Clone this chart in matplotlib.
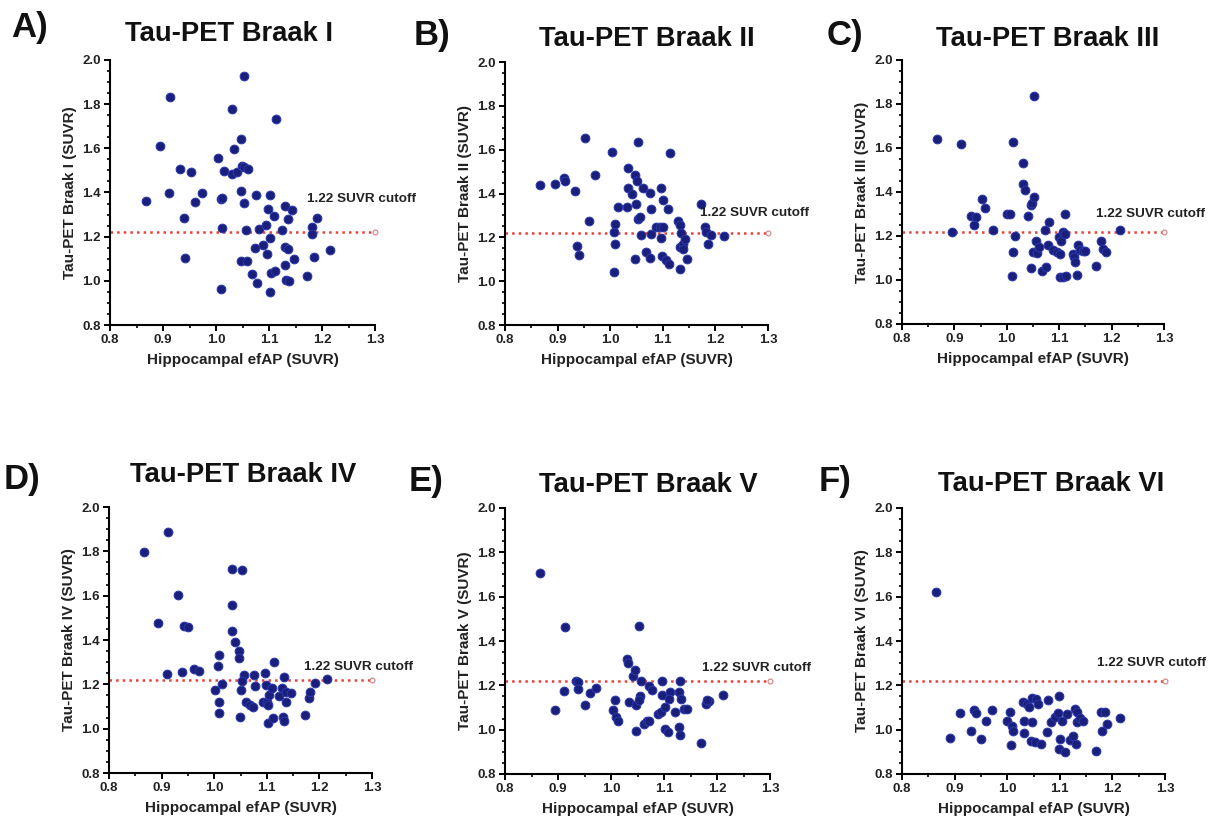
import matplotlib
matplotlib.use("Agg")
import matplotlib.pyplot as plt
from matplotlib.ticker import MultipleLocator, FormatStrFormatter

plt.rcParams['font.family'] = ['Liberation Sans', 'DejaVu Sans']
plt.rcParams['font.weight'] = 'bold'

W, H = 1217, 822

# ---------------- data ----------------
titles = ["Tau-PET Braak I", "Tau-PET Braak II", "Tau-PET Braak III",
          "Tau-PET Braak IV", "Tau-PET Braak V", "Tau-PET Braak VI"]
letters = ["A)", "B)", "C)", "D)", "E)", "F)"]
ylabels = ["Tau-PET Braak I (SUVR)", "Tau-PET Braak II (SUVR)", "Tau-PET Braak III (SUVR)",
           "Tau-PET Braak IV (SUVR)", "Tau-PET Braak V (SUVR)", "Tau-PET Braak VI (SUVR)"]
xlabel = "Hippocampal efAP (SUVR)"
cutoff = 1.22
cutoff_label = "1.22 SUVR cutoff"
x_ticks = [0.8, 0.9, 1.0, 1.1, 1.2, 1.3]
y_ticks = [0.8, 1.0, 1.2, 1.4, 1.6, 1.8, 2.0]

braak1_x = [0.868, 0.894, 0.913, 0.912, 0.932, 0.940, 0.942, 0.952, 0.960, 0.973,
            1.003, 1.009, 1.012, 1.011, 1.009, 1.016, 1.031, 1.034, 1.031, 1.039,
            1.047, 1.052, 1.049, 1.053, 1.061, 1.048, 1.052, 1.057, 1.048, 1.058,
            1.067, 1.077, 1.075, 1.074, 1.081, 1.088, 1.094, 1.099, 1.102, 1.101,
            1.097, 1.102, 1.103, 1.111, 1.110, 1.113, 1.124, 1.130, 1.131, 1.135,
            1.136, 1.131, 1.133, 1.138, 1.144, 1.147, 1.171, 1.181, 1.182, 1.185,
            1.190, 1.215]
braak1_y = [1.363, 1.612, 1.831, 1.396, 1.506, 1.286, 1.105, 1.494, 1.358, 1.396,
            1.555, 1.369, 1.374, 1.241, 0.965, 1.499, 1.777, 1.595, 1.484, 1.494,
            1.641, 1.929, 1.520, 1.517, 1.506, 1.408, 1.351, 1.230, 1.090, 1.090,
            1.029, 0.992, 1.389, 1.147, 1.235, 1.162, 1.253, 1.324, 1.389, 1.192,
            1.122, 0.951, 1.037, 1.045, 1.294, 1.731, 1.230, 1.155, 1.339, 1.278,
            1.146, 1.072, 1.004, 0.999, 1.321, 1.097, 1.022, 1.245, 1.211, 1.106,
            1.286, 1.140]

braak2_x = [0.866, 0.895, 0.913, 0.914, 0.933, 0.936, 0.941, 0.952, 0.960, 0.972,
            1.003, 1.007, 1.010, 1.010, 1.008, 1.015, 1.033, 1.031, 1.033, 1.041,
            1.048, 1.050, 1.049, 1.052, 1.053, 1.056, 1.048, 1.059, 1.063, 1.068,
            1.075, 1.075, 1.078, 1.077, 1.088, 1.094, 1.097, 1.096, 1.101, 1.101,
            1.099, 1.106, 1.110, 1.113, 1.112, 1.129, 1.132, 1.134, 1.132, 1.132,
            1.139, 1.142, 1.146, 1.139, 1.172, 1.180, 1.183, 1.185, 1.192, 1.216]
braak2_y = [1.438, 1.443, 1.472, 1.456, 1.411, 1.159, 1.118, 1.652, 1.275, 1.484,
            1.591, 1.224, 1.260, 1.171, 1.044, 1.339, 1.515, 1.339, 1.427, 1.397,
            1.484, 1.456, 1.351, 1.637, 1.285, 1.293, 1.102, 1.209, 1.423, 1.132,
            1.107, 1.403, 1.331, 1.217, 1.247, 1.247, 1.423, 1.197, 1.247, 1.369,
            1.113, 1.098, 1.331, 1.583, 1.079, 1.273, 1.258, 1.220, 1.156, 1.056,
            1.171, 1.194, 1.102, 1.145, 1.354, 1.247, 1.224, 1.171, 1.209, 1.205]

braak3_x = [0.866, 0.912, 0.895, 0.932, 0.941, 0.938, 0.952, 0.959, 0.973, 1.001,
            1.007, 1.011, 1.011, 1.009, 1.015, 1.031, 1.031, 1.034, 1.041, 1.047,
            1.049, 1.052, 1.052, 1.047, 1.050, 1.055, 1.058, 1.061, 1.068, 1.074,
            1.072, 1.080, 1.078, 1.088, 1.096, 1.102, 1.099, 1.104, 1.101, 1.107,
            1.113, 1.112, 1.107, 1.112, 1.126, 1.129, 1.130, 1.134, 1.135, 1.140,
            1.145, 1.149, 1.170, 1.180, 1.183, 1.189, 1.216]
braak3_y = [1.643, 1.616, 1.220, 1.290, 1.286, 1.252, 1.369, 1.328, 1.228, 1.301,
            1.301, 1.625, 1.126, 1.017, 1.198, 1.532, 1.438, 1.407, 1.290, 1.339,
            1.350, 1.377, 1.837, 1.053, 1.126, 1.176, 1.122, 1.152, 1.043, 1.061,
            1.225, 1.263, 1.157, 1.137, 1.126, 1.116, 1.195, 1.179, 1.015, 1.015,
            1.017, 1.301, 1.217, 1.207, 1.116, 1.106, 1.081, 1.023, 1.161, 1.137,
            1.134, 1.131, 1.065, 1.176, 1.141, 1.126, 1.225]

braak4_x = [0.867, 0.912, 0.894, 0.911, 0.932, 0.938, 0.942, 0.951, 0.961, 0.972,
            1.002, 1.007, 1.010, 1.009, 1.009, 1.015, 1.033, 1.053, 1.034, 1.034,
            1.040, 1.047, 1.048, 1.051, 1.049, 1.056, 1.053, 1.061, 1.068, 1.074,
            1.075, 1.077, 1.093, 1.097, 1.099, 1.100, 1.103, 1.102, 1.104, 1.110,
            1.114, 1.112, 1.123, 1.128, 1.132, 1.130, 1.132, 1.136, 1.136, 1.146,
            1.172, 1.181, 1.183, 1.191, 1.214]
braak4_y = [1.797, 1.887, 1.477, 1.245, 1.605, 1.257, 1.464, 1.459, 1.267, 1.261,
            1.174, 1.284, 1.332, 1.122, 1.072, 1.200, 1.722, 1.715, 1.560, 1.441,
            1.392, 1.351, 1.321, 1.174, 1.054, 1.242, 1.216, 1.122, 1.107, 1.096,
            1.242, 1.192, 1.122, 1.249, 1.197, 1.122, 1.107, 1.024, 1.152, 1.182,
            1.302, 1.047, 1.147, 1.182, 1.234, 1.054, 1.035, 1.122, 1.167, 1.159,
            1.062, 1.137, 1.167, 1.204, 1.222]

braak5_x = [0.866, 0.894, 0.913, 0.911, 0.934, 0.938, 0.937, 0.951, 0.960, 0.971,
            1.003, 1.008, 1.009, 1.013, 1.031, 1.033, 1.034, 1.041, 1.045, 1.048,
            1.052, 1.056, 1.055, 1.052, 1.047, 1.062, 1.067, 1.072, 1.072, 1.077,
            1.089, 1.094, 1.097, 1.096, 1.102, 1.102, 1.108, 1.111, 1.109, 1.121,
            1.129, 1.131, 1.132, 1.137, 1.143, 1.129, 1.130, 1.169, 1.179, 1.184,
            1.182, 1.212]
braak5_y = [1.706, 1.087, 1.463, 1.175, 1.221, 1.215, 1.184, 1.112, 1.164, 1.187,
            1.087, 1.133, 1.057, 1.041, 1.317, 1.302, 1.126, 1.241, 1.267, 1.110,
            1.466, 1.221, 1.153, 1.133, 0.995, 1.026, 1.037, 1.037, 1.195, 1.179,
            1.072, 1.080, 1.221, 1.156, 1.103, 1.003, 0.988, 1.172, 1.138, 1.080,
            1.172, 1.218, 1.138, 1.095, 1.095, 1.011, 0.975, 0.942, 1.115, 1.128,
            1.133, 1.156]

braak6_x = [0.864, 0.892, 0.911, 0.931, 0.937, 0.940, 0.950, 0.959, 0.972, 1.000,
            1.005, 1.007, 1.010, 1.011, 1.030, 1.032, 1.032, 1.037, 1.042, 1.048,
            1.048, 1.046, 1.053, 1.054, 1.059, 1.064, 1.075, 1.078, 1.084, 1.091,
            1.099, 1.097, 1.100, 1.099, 1.110, 1.105, 1.113, 1.119, 1.126, 1.129,
            1.133, 1.133, 1.131, 1.138, 1.145, 1.169, 1.179, 1.186, 1.181, 1.189,
            1.214]
braak6_y = [1.621, 0.963, 1.075, 0.993, 1.090, 1.075, 0.958, 1.040, 1.090, 1.040,
            1.081, 0.931, 1.018, 0.996, 1.125, 1.040, 0.985, 1.115, 1.100, 1.145,
            1.036, 0.951, 0.943, 1.137, 1.115, 0.936, 0.988, 1.134, 1.033, 1.055,
            1.152, 1.075, 0.958, 0.913, 0.899, 1.040, 1.070, 0.955, 0.973, 1.093,
            1.081, 1.033, 0.936, 1.051, 1.040, 0.906, 1.078, 1.078, 0.993, 1.025,
            1.051]

xs = [braak1_x, braak2_x, braak3_x, braak4_x, braak5_x, braak6_x]
ys = [braak1_y, braak2_y, braak3_y, braak4_y, braak5_y, braak6_y]

# ---------------- layout (pixels) ----------------
boxes = [(110, 375, 60, 325), (505, 768, 62, 325), (902, 1164, 60, 324),
         (109, 372, 507, 773), (505, 770, 508, 774), (902, 1165, 508, 774)]
title_pos = [(229, 34), (647, 39), (1048, 39), (243, 475), (648, 485), (1051, 484)]
letter_pos = [(11, 27), (414, 36), (827, 36), (4, 479), (409, 482), (819, 482)]
label_y = [1.37, 1.31, 1.30, 1.28, 1.28, 1.30]

fig = plt.figure(figsize=(W / 100, H / 100), dpi=100)
fig.patch.set_facecolor('white')

dot_face = '#1a1f7c'
dot_edge = '#2a38aa'
red = '#e8413a'

for i in range(6):
    x0, x1, yt, yb = boxes[i]
    ax = fig.add_axes([x0 / W, 1 - yb / H, (x1 - x0) / W, (yb - yt) / H])
    ax.set_xlim(0.8, 1.3)
    ax.set_ylim(0.8, 2.0)
    for s in ['top', 'right']:
        ax.spines[s].set_visible(False)
    for s in ['left', 'bottom']:
        ax.spines[s].set_linewidth(1.5)
    ax.set_xticks(x_ticks)
    ax.set_yticks(y_ticks)
    ax.xaxis.set_minor_locator(MultipleLocator(0.05))
    ax.yaxis.set_minor_locator(MultipleLocator(0.05))
    ax.xaxis.set_major_formatter(FormatStrFormatter('%.1f'))
    ax.yaxis.set_major_formatter(FormatStrFormatter('%.1f'))
    ax.tick_params(which='major', length=4.5, width=1.4, labelsize=9.5,
                   labelcolor='#222222', pad=2)
    ax.tick_params(which='minor', length=2.5, width=1.2)
    for lab in ax.get_xticklabels() + ax.get_yticklabels():
        lab.set_fontweight('bold')

    ax.plot([0.8, 1.3], [cutoff, cutoff], linestyle=':', color=red, linewidth=1.8,
            zorder=1, clip_on=False)
    ax.plot([1.3], [cutoff], marker='o', markersize=3.5, markerfacecolor='white',
            markeredgecolor='#d08080', markeredgewidth=0.8, clip_on=False, zorder=1)

    ax.scatter(xs[i], ys[i], s=40, c=dot_face, edgecolors=dot_edge, linewidths=0.7,
               zorder=3, clip_on=False)

    ax.text(1.171, label_y[i], cutoff_label, fontsize=9.7, fontweight='bold',
            color='#222222', ha='left', va='center', clip_on=False)

    ax.set_xlabel(xlabel, fontsize=11, fontweight='bold', labelpad=5, color='#222222')
    ax.set_ylabel(ylabels[i], fontsize=11, fontweight='bold', labelpad=4, color='#222222')

    tx, ty = title_pos[i]
    fig.text(tx / W, 1 - ty / H, titles[i], fontsize=19.7, fontweight='bold',
             ha='center', va='center', color='#111111')
    lx, ly = letter_pos[i]
    fig.text(lx / W, 1 - ly / H, letters[i], fontsize=25, fontweight='bold',
             ha='left', va='center', color='#111111')

fig.savefig('out.png', dpi=100, facecolor='white')
